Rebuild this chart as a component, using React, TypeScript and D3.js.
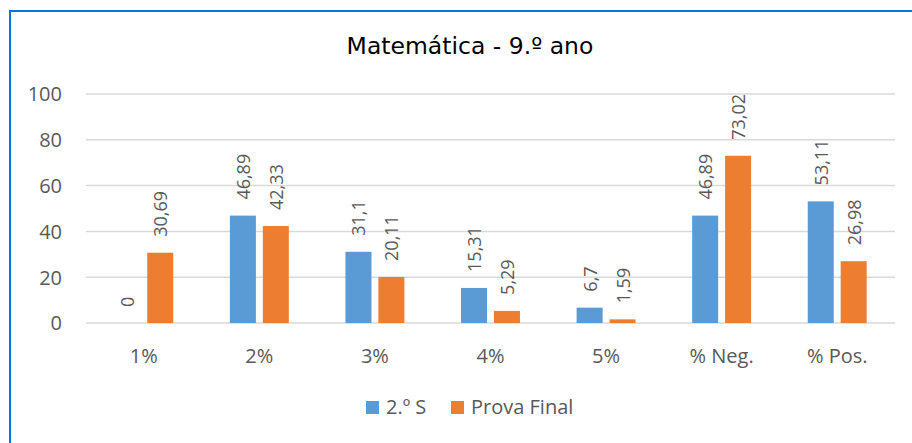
import React from "react";
import * as d3 from "d3";

const categories = ["1%", "2%", "3%", "4%", "5%", "% Neg.", "% Pos."];
const seriesNames = ["2.º S", "Prova Final"];
const semestre = [0, 46.89, 31.1, 15.31, 6.7, 46.89, 53.11];
const provaFinal = [30.69, 42.33, 20.11, 5.29, 1.59, 73.02, 26.98];
const yTicks = [0, 20, 40, 60, 80, 100];
const colors = ["#5B9BD5", "#ED7D31"];

const W = 912, H = 443;
const left = 86, right = 895, top = 94, bottom = 323;
const font = "'Open Sans', sans-serif";
const txt = "#595959";

const fmt = (v: number) => String(v).replace(".", ",");

export default function App() {
  const x = d3.scaleBand<string>().domain(categories).range([left, right])
    .paddingInner(0.49).paddingOuter(0.245);
  const xs = d3.scaleBand<string>().domain(seriesNames).range([0, x.bandwidth()])
    .paddingInner(0.21);
  const y = d3.scaleLinear().domain([0, 100]).range([bottom, top]);
  const values = [semestre, provaFinal];

  return (
    <svg width={W} height={H} style={{ position: "absolute", left: 0, top: 0, background: "#fff" }}>
      <rect x={10} y={11} width={1000} height={600} fill="#fff" stroke="#0A74DA" strokeWidth={2} />
      <text x={470} y={54} textAnchor="middle" fontFamily="'DejaVu Sans', sans-serif" fontSize={23.5} fill="#000">
        Matemática - 9.º ano
      </text>

      {yTicks.map(t => (
        <g key={t}>
          <line x1={left} x2={right} y1={y(t)} y2={y(t)} stroke="#D9D9D9" strokeWidth={1.5} />
          <text x={62} y={y(t) + 7.3} textAnchor="end" fontFamily={font} fontSize={20} fill={txt}>{t}</text>
        </g>
      ))}

      {categories.map((c, i) => (
        <g key={c}>
          {seriesNames.map((s, k) => {
            const v = values[k][i];
            const bx = (x(c) as number) + (xs(s) as number);
            const cx = bx + xs.bandwidth() / 2;
            const ty = y(v) - 16;
            return (
              <g key={s}>
                <rect x={bx} y={y(v)} width={xs.bandwidth()} height={bottom - y(v)} fill={colors[k]} />
                <text transform={`translate(${cx},${ty}) rotate(-90)`} dominantBaseline="central"
                  fontFamily={font} fontSize={18} fill={txt}>{fmt(v)}</text>
              </g>
            );
          })}
          <text x={(x(c) as number) + x.bandwidth() / 2} y={363} textAnchor="middle"
            fontFamily={font} fontSize={20} fill={txt}>{c}</text>
        </g>
      ))}

      <g>
        <rect x={366} y={401} width={13} height={13} fill={colors[0]} />
        <text x={386} y={414} fontFamily={font} fontSize={20} fill={txt}>{seriesNames[0]}</text>
        <rect x={451} y={401} width={13} height={13} fill={colors[1]} />
        <text x={471} y={414} fontFamily={font} fontSize={20} fill={txt}>{seriesNames[1]}</text>
      </g>
    </svg>
  );
}
